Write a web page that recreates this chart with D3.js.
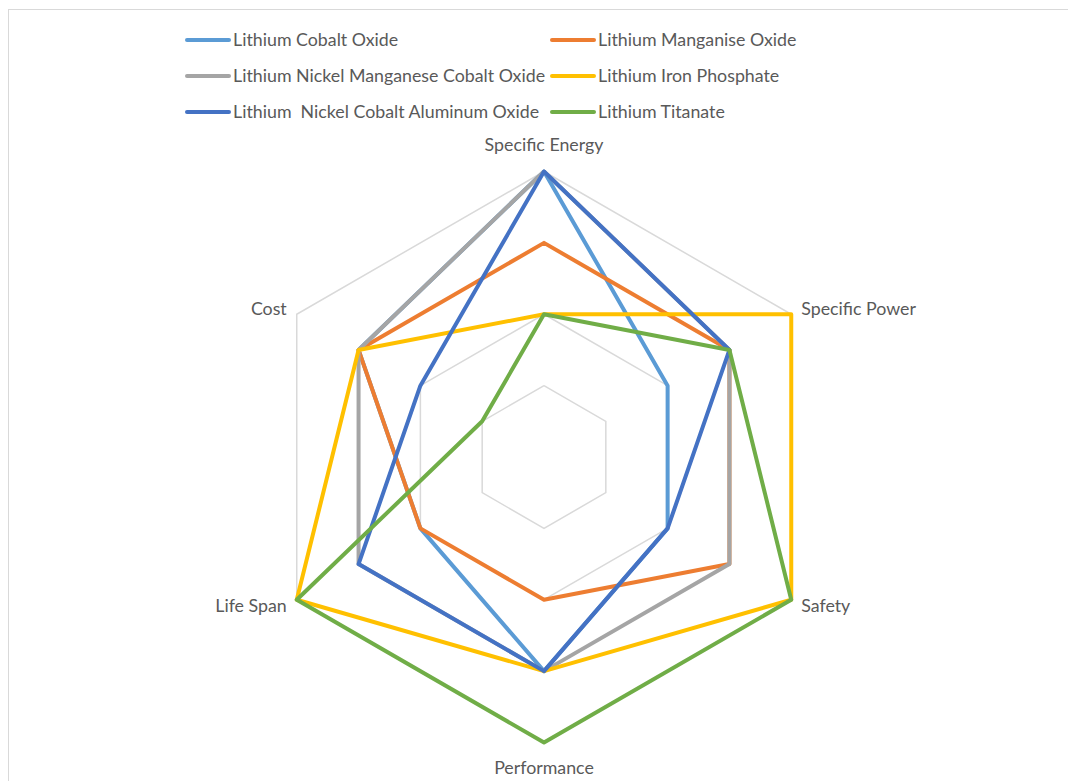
<!DOCTYPE html>
<html><head><meta charset="utf-8">
<script src="https://cdn.jsdelivr.net/npm/d3@7"></script>
<style>
body{margin:0;background:#fff;}
text{font-family:Lato,"Open Sans",sans-serif;fill:#595959;}
</style></head>
<body><svg id="c" width="1068" height="781"></svg>
<script>
const axes = ["Specific Energy","Specific Power","Safety","Performance","Life Span","Cost"];
const seriesNames = ["Lithium Cobalt Oxide","Lithium Manganise Oxide","Lithium Nickel Manganese Cobalt Oxide","Lithium Iron Phosphate","Lithium  Nickel Cobalt Aluminum Oxide","Lithium Titanate"];
const lco = [4,2,2,3,2,3];
const lmo = [3,3,3,2,2,3];
const nmc = [4,3,3,3,3,3];
const lfp = [2,4,4,3,4,3];
const nca = [4,3,2,3,3,2];
const lto = [2,3,4,4,4,1];
const colors = ["#5B9BD5","#ED7D31","#A5A5A5","#FFC000","#4472C4","#70AD47"];
const gridLevels = [1,2,3,4];

const series = [lco,lmo,nmc,lfp,nca,lto];
const svg = d3.select("#c");
svg.append("rect").attr("x",8.5).attr("y",9.5).attr("width",1100).attr("height",800)
  .attr("fill","none").attr("stroke","#d9d9d9").attr("stroke-width",1);

const cx=544, cy=457;
const r = d3.scaleLinear().domain([0,4]).range([0,285.5]);
const ang = d3.scalePoint().domain(axes).range([0, 2*Math.PI*5/6]);
const pt = (a,v)=>{const t=ang(a); return [cx+r(v)*Math.sin(t), cy-r(v)*Math.cos(t)];};

const g = svg.append("g");
gridLevels.forEach(l=>{
  g.append("path").attr("d", d3.line()(axes.map(a=>pt(a,l)).concat([pt(axes[0],l)])))
   .attr("fill","none").attr("stroke","#d9d9d9").attr("stroke-width",1.5);
});

series.forEach((s,i)=>{
  const pts = axes.map((a,j)=>pt(a,s[j]));
  g.append("path").attr("d", d3.line()(pts)+"Z")
   .attr("fill","none").attr("stroke",colors[i]).attr("stroke-width",4).attr("stroke-linejoin","round");
});

const FS = 17.8;
// axis labels
const lab = [
  {dx:0, dy:-25, anchor:"middle"},
  {dx:10, dy:-4, anchor:"start"},
  {dx:10, dy:8, anchor:"start"},
  {dx:0, dy:27, anchor:"middle"},
  {dx:-10, dy:8, anchor:"end"},
  {dx:-10, dy:-4, anchor:"end"}
];
axes.forEach((a,j)=>{
  const p = pt(a,4);
  svg.append("text").attr("x",p[0]+lab[j].dx).attr("y",p[1]+lab[j].dy)
    .attr("text-anchor",lab[j].anchor).attr("dominant-baseline","middle")
    .attr("font-size",FS).text(a);
});

// legend
const legX=[185,550], legY=[40,76,112];
seriesNames.forEach((n,i)=>{
  const x=legX[i%2], y=legY[Math.floor(i/2)];
  svg.append("line").attr("x1",x+2).attr("x2",x+44).attr("y1",y).attr("y2",y)
    .attr("stroke",colors[i]).attr("stroke-width",4).attr("stroke-linecap","round");
  svg.append("text").attr("x",x+48).attr("y",y+1.5).attr("dominant-baseline","middle")
    .attr("font-size",FS).style("white-space","pre").text(n);
});
</script></body></html>
